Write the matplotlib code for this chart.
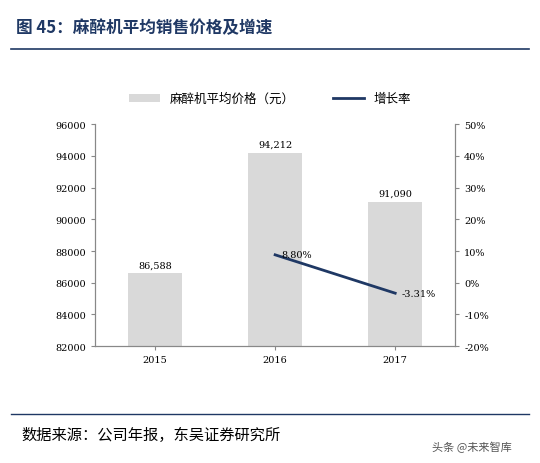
import matplotlib.pyplot as plt
from matplotlib.ticker import FuncFormatter

plt.rcParams["font.family"] = ["Noto Sans CJK SC", "DejaVu Sans"]

years = ["2015", "2016", "2017"]
price = [86588, 94212, 91090]
growth = [8.80, -3.31]
growth_years = [1, 2]

fig = plt.figure(figsize=(5.4, 4.64), dpi=100)
ax = fig.add_axes([0.176, 0.252, 0.667, 0.478])
ax2 = ax.twinx()

x = range(len(years))
ax.bar(x, price, width=0.45, color="#d9d9d9", label="麻醉机平均价格（元）")
for i, v in zip(x, price):
    ax.text(i, v + 250, f"{v:,}", ha="center", va="bottom", fontsize=7,
            family="DejaVu Serif")
ax.set_ylim(82000, 96000)
ax.set_yticks(range(82000, 96001, 2000))
ax.set_xlim(-0.5, 2.5)
ax.set_xticks(list(x))
ax.set_xticklabels(years)

ax2.plot(growth_years, growth, color="#1f3864", lw=2, label="增长率")
for i, v in zip(growth_years, growth):
    ax2.text(i + 0.05, v, f"{v:.2f}%", ha="left", va="center", fontsize=7,
             family="DejaVu Serif")
ax2.set_ylim(-20, 50)
ax2.set_yticks(range(-20, 51, 10))
ax2.yaxis.set_major_formatter(FuncFormatter(lambda v, p: f"{v:.0f}%"))

for a in (ax, ax2):
    a.tick_params(labelsize=7, length=3, color="#888888")
    for lab in a.get_xticklabels() + a.get_yticklabels():
        lab.set_family("DejaVu Serif")
    for s in a.spines.values():
        s.set_color("#888888")
    a.spines["top"].set_visible(False)

h1, l1 = ax.get_legend_handles_labels()
h2, l2 = ax2.get_legend_handles_labels()
fig.legend(h1 + h2, l1 + l2, loc="center", bbox_to_anchor=(0.5, 0.785),
           ncol=2, frameon=False, fontsize=9, handlelength=2.5, columnspacing=3)

fig.text(0.03, 0.94, "图 45：麻醉机平均销售价格及增速", fontsize=12,
         fontweight="bold", color="#1f3864", va="center")
fig.add_artist(plt.Line2D([0.02, 0.98], [0.892, 0.892], color="#1f3864", lw=1.2))
fig.add_artist(plt.Line2D([0.02, 0.98], [0.105, 0.105], color="#1f3864", lw=1))
fig.text(0.04, 0.062, "数据来源：公司年报，东吴证券研究所", fontsize=11, va="center")
fig.text(0.80, 0.035, "头条 @未来智库", fontsize=8, color="#555555", va="center")

fig.savefig("out.png", dpi=100)
